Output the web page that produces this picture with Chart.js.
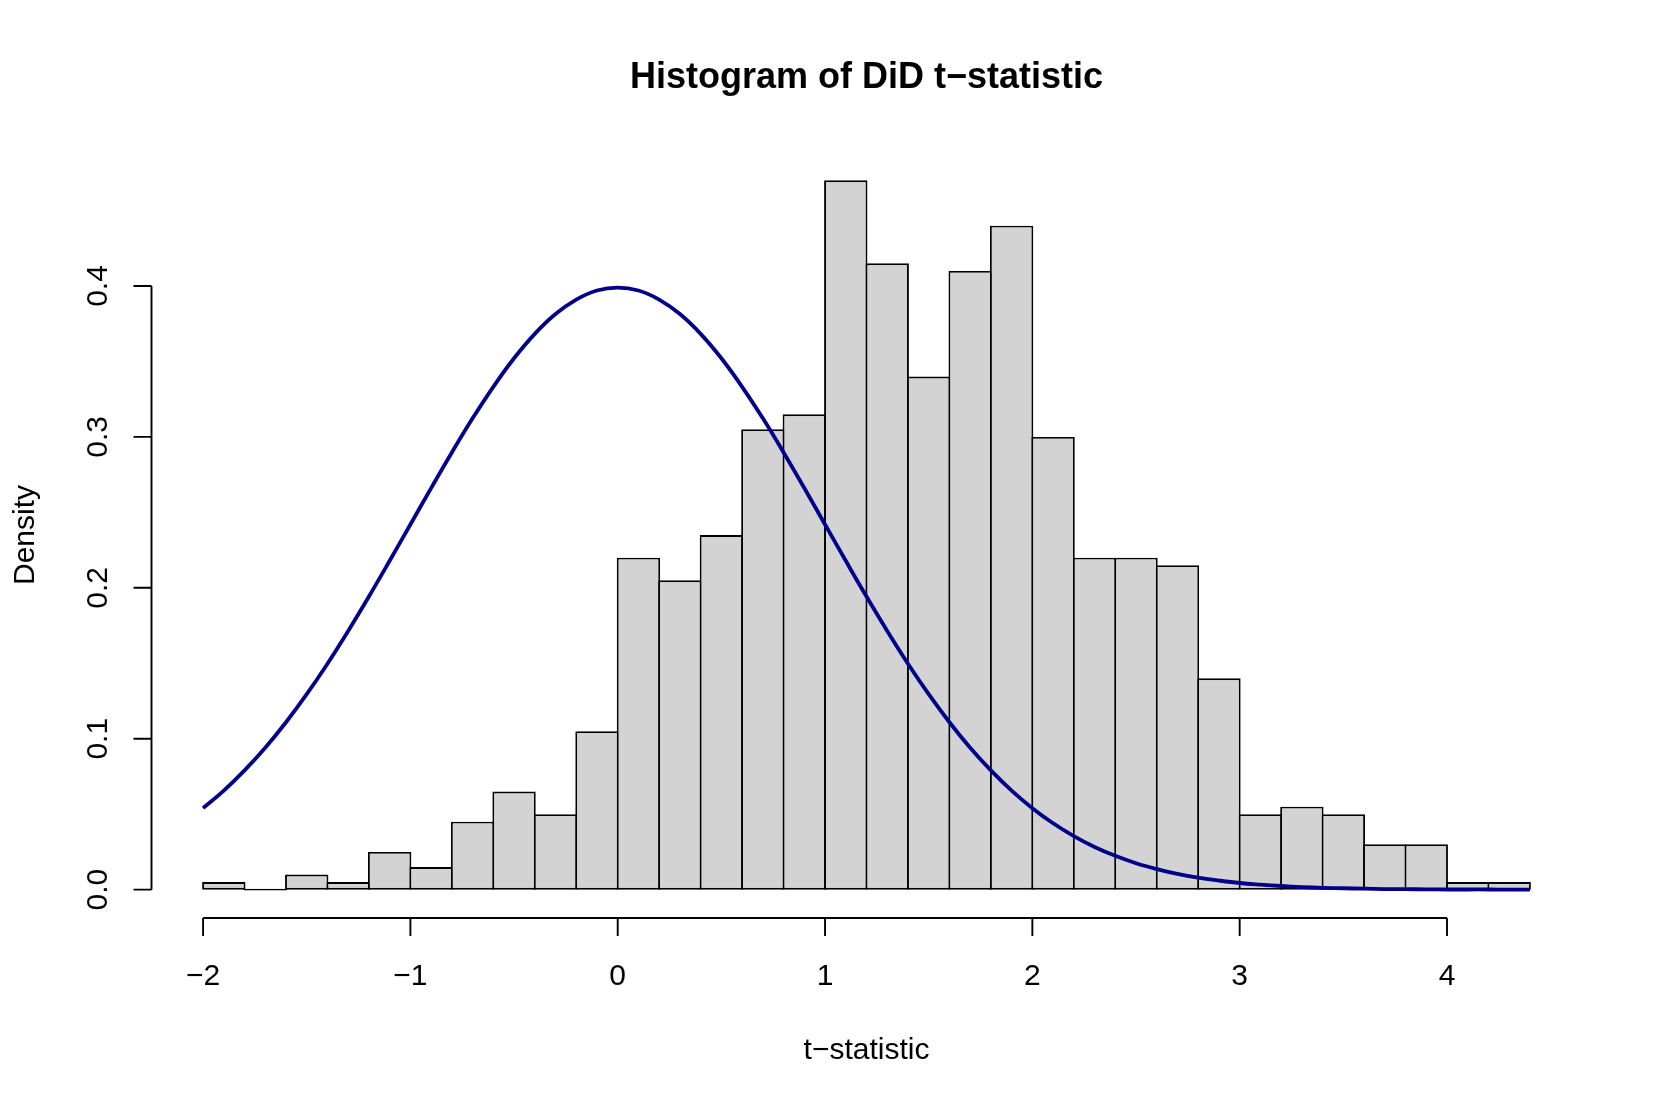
<!DOCTYPE html>
<html>
<head>
<meta charset="utf-8">
<title>Histogram of DiD t-statistic</title>
<script src="https://cdn.jsdelivr.net/npm/chart.js@4"></script>
<style>
  html, body { margin: 0; padding: 0; background: #fff; }
  canvas { display: block; }
</style>
</head>
<body>
<canvas id="hist-chart" width="1661" height="1107"></canvas>
<script>
// histogram breaks and densities (bin width 0.2)
const breaks = [-2.0, -1.8, -1.6, -1.4, -1.2, -1.0, -0.8, -0.6, -0.4, -0.2, 0.0,
  0.2, 0.4, 0.6, 0.8, 1.0, 1.2, 1.4, 1.6, 1.8, 2.0, 2.2, 2.4, 2.6, 2.8, 3.0,
  3.2, 3.4, 3.6, 3.8, 4.0, 4.2, 4.4];
const densities = [0.005, 0.0, 0.01, 0.005, 0.025, 0.015, 0.045, 0.065, 0.05, 0.105,
  0.22, 0.205, 0.235, 0.305, 0.315, 0.47, 0.415, 0.34, 0.41, 0.44,
  0.30, 0.22, 0.22, 0.215, 0.14, 0.05, 0.055, 0.05, 0.03, 0.03, 0.005, 0.005];

// overlaid curve
const curveX = [-2.0, -1.9, -1.8, -1.7, -1.6, -1.5, -1.4, -1.3, -1.2, -1.1, -1.0,
  -0.9, -0.8, -0.7, -0.6, -0.5, -0.4, -0.3, -0.2, -0.1, 0.0,
  0.1, 0.2, 0.3, 0.4, 0.5, 0.6, 0.7, 0.8, 0.9, 1.0,
  1.1, 1.2, 1.3, 1.4, 1.5, 1.6, 1.7, 1.8, 1.9, 2.0,
  2.1, 2.2, 2.3, 2.4, 2.5, 2.6, 2.7, 2.8, 2.9, 3.0,
  3.1, 3.2, 3.3, 3.4, 3.5, 3.6, 3.7, 3.8, 3.9, 4.0,
  4.1, 4.2, 4.3, 4.4];
const curveY = [0.0540, 0.0656, 0.0790, 0.0940, 0.1109, 0.1295, 0.1497, 0.1714, 0.1942, 0.2179, 0.2420,
  0.2661, 0.2897, 0.3123, 0.3332, 0.3521, 0.3683, 0.3814, 0.3910, 0.3970, 0.3989,
  0.3970, 0.3910, 0.3814, 0.3683, 0.3521, 0.3332, 0.3123, 0.2897, 0.2661, 0.2420,
  0.2179, 0.1942, 0.1714, 0.1497, 0.1295, 0.1109, 0.0940, 0.0790, 0.0656, 0.0540,
  0.0440, 0.0355, 0.0283, 0.0224, 0.0175, 0.0136, 0.0104, 0.0079, 0.0060, 0.0044,
  0.0033, 0.0024, 0.0017, 0.0012, 0.0009, 0.0006, 0.0004, 0.0003, 0.0002, 0.0001,
  0.0001, 0.0001, 0.0, 0.0];

// axis ticks
const xTicks = [-2, -1, 0, 1, 2, 3, 4];
const xTickLabels = ["\u22122", "\u22121", "0", "1", "2", "3", "4"];
const yTicks = [0, 0.1, 0.2, 0.3, 0.4];
const yTickLabels = ["0.0", "0.1", "0.2", "0.3", "0.4"];

const titleText = "Histogram of DiD t\u2212statistic";
const xTitle = "t\u2212statistic";
const yTitle = "Density";

const FONT = '"Liberation Sans", Arial, Helvetica, sans-serif';

const barPoints = densities.map((d, i) => ({ x: (breaks[i] + breaks[i + 1]) / 2, y: d }));
const curvePoints = curveX.map((x, i) => ({ x: x, y: curveY[i] }));

// R style axes (only span the tick range), titles
const rAxes = {
  id: "rAxes",
  afterDraw(chart) {
    const c = chart.ctx;
    const xs = chart.scales.x;
    const ys = chart.scales.y;
    const area = chart.chartArea;
    const tick = 18;

    c.save();
    c.strokeStyle = "#000";
    c.fillStyle = "#000";
    c.lineWidth = 1.9;

    // x axis
    const xAxisY = area.bottom;
    c.beginPath();
    c.moveTo(xs.getPixelForValue(xTicks[0]), xAxisY);
    c.lineTo(xs.getPixelForValue(xTicks[xTicks.length - 1]), xAxisY);
    xTicks.forEach(v => {
      const px = xs.getPixelForValue(v);
      c.moveTo(px, xAxisY);
      c.lineTo(px, xAxisY + tick);
    });
    c.stroke();

    c.font = "30px " + FONT;
    c.textAlign = "center";
    c.textBaseline = "alphabetic";
    xTicks.forEach((v, i) => {
      c.fillText(xTickLabels[i], xs.getPixelForValue(v), 985);
    });

    // y axis
    const yAxisX = area.left + 1.5;
    c.beginPath();
    c.moveTo(yAxisX, ys.getPixelForValue(yTicks[0]));
    c.lineTo(yAxisX, ys.getPixelForValue(yTicks[yTicks.length - 1]));
    yTicks.forEach(v => {
      const py = ys.getPixelForValue(v);
      c.moveTo(yAxisX, py);
      c.lineTo(yAxisX - tick, py);
    });
    c.stroke();

    yTicks.forEach((v, i) => {
      c.save();
      c.translate(106.5, ys.getPixelForValue(v));
      c.rotate(-Math.PI / 2);
      c.fillText(yTickLabels[i], 0, 0);
      c.restore();
    });

    // axis titles
    c.fillText(xTitle, (area.left + area.right) / 2, 1059);
    c.save();
    c.translate(33.5, (area.top + area.bottom) / 2);
    c.rotate(-Math.PI / 2);
    c.fillText(yTitle, 0, 0);
    c.restore();

    // main title
    c.font = "bold 36px " + FONT;
    c.fillText(titleText, (area.left + area.right) / 2, 88);

    c.restore();
  }
};

const ctx = document.getElementById("hist-chart");

new Chart(ctx, {
  type: "bar",
  data: {
    datasets: [
      {
        type: "line",
        label: "curve",
        data: curvePoints,
        borderColor: "#00008B",
        borderWidth: 3.8,
        pointRadius: 0,
        fill: false,
        tension: 0.4,
        order: 0
      },
      {
        type: "bar",
        label: "density",
        data: barPoints,
        backgroundColor: "#D3D3D3",
        borderColor: "#000",
        borderWidth: 1.9,
        borderSkipped: false,
        minBarLength: 1.9,
        barPercentage: 1.0458,
        categoryPercentage: 1,
        order: 1
      }
    ]
  },
  options: {
    responsive: false,
    animation: false,
    events: [],
    layout: {
      padding: { left: 150, right: 78, top: 152, bottom: 189 }
    },
    scales: {
      x: {
        type: "linear",
        display: false,
        offset: false,
        min: -2.256,
        max: 4.656
      },
      y: {
        type: "linear",
        display: false,
        min: -0.0188,
        max: 0.4888
      }
    },
    plugins: {
      legend: { display: false },
      tooltip: { enabled: false },
      title: { display: false }
    }
  },
  plugins: [rAxes]
});
</script>
</body>
</html>
